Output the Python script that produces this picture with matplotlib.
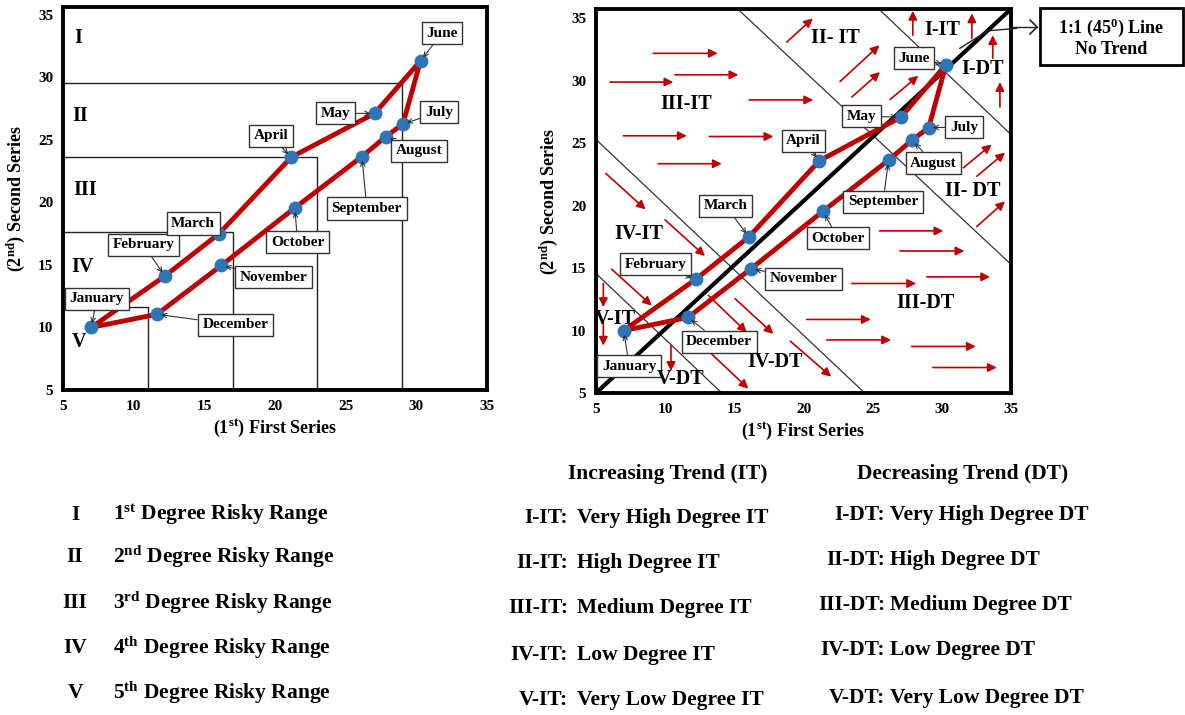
import matplotlib.pyplot as plt
from matplotlib.patches import Rectangle

plt.rcParams['font.family'] = ['Liberation Serif', 'DejaVu Serif']
plt.rcParams['font.weight'] = 'bold'
plt.rcParams['axes.labelweight'] = 'bold'
plt.rcParams['mathtext.fontset'] = 'custom'
plt.rcParams['mathtext.rm'] = 'Liberation Serif:bold'
plt.rcParams['mathtext.bf'] = 'Liberation Serif:bold'
plt.rcParams['mathtext.it'] = 'Liberation Serif:bold'

W, H = 1185, 715
RED = '#C00000'
BLUE = '#2E75B6'

# Data
months = ['January', 'February', 'March', 'April', 'May', 'June',
          'July', 'August', 'September', 'October', 'November', 'December']
first_series = [7.0, 12.2, 16.05, 21.15, 27.05, 30.3, 29.05, 27.85, 26.15, 21.4, 16.2, 11.65]
second_series = [10.0, 14.1, 17.5, 23.6, 27.1, 31.3, 26.25, 25.25, 23.65, 19.55, 14.95, 11.05]

# callout label centres
left_label_pos = [(7.4, 12.3), (10.7, 16.6), (14.2, 18.3), (19.7, 25.3), (24.3, 27.1), (31.8, 33.5),
                  (31.6, 27.2), (30.2, 24.1), (26.5, 19.5), (21.6, 16.8), (19.9, 14.0), (17.2, 10.2)]
right_label_pos = [(7.4, 7.15), (9.3, 15.3), (14.35, 20.0), (20.0, 25.2), (24.2, 27.15), (28.0, 31.8),
                   (31.6, 26.3), (29.4, 23.4), (25.75, 20.3), (22.5, 17.4), (20.0, 14.15), (13.9, 9.1)]

# risky ranges (left chart)
range_x = [11, 17, 23, 29]
range_y = [11.6, 17.65, 23.65, 29.55]
range_names = ['I', 'II', 'III', 'IV', 'V']
range_name_pos = [(6.1, 33.1), (6.25, 26.9), (6.6, 21.0), (6.4, 14.8), (6.1, 8.8)]
range_sup = ['st', 'nd', 'rd', 'th', 'th']

# trend zones (right chart)
zone_names = ['I-IT', 'II- IT', 'III-IT', 'IV-IT', 'V-IT', 'I-DT', 'II- DT', 'III-DT', 'IV-DT', 'V-DT']
zone_pos = [(30.0, 34.05), (22.3, 33.45), (11.55, 28.15), (8.1, 17.7), (6.4, 10.9),
            (32.95, 30.95), (32.2, 21.15), (28.85, 12.2), (17.95, 7.45), (11.1, 6.15)]
zone_boundaries = [((5, 14.57), (14.09, 5)), ((5, 25.3), (24.33, 5.1)),
                   ((15.29, 35.7), (35, 15.3)), ((25.49, 35.7), (35, 25.7))]
trend_arrows = [
    (9.14, 32.2, 13.8, 32.2), (10.71, 30.48, 15.29, 30.48), (6.01, 29.9, 10.59, 29.9),
    (16.08, 28.47, 20.7, 28.47), (6.98, 25.6, 11.56, 25.6), (13.19, 25.54, 17.82, 25.54),
    (9.5, 23.36, 14.09, 23.36),
    (18.79, 33.1, 20.67, 35.0), (22.64, 29.94, 25.49, 32.85), (23.49, 28.7, 25.53, 30.7),
    (26.26, 28.5, 28.3, 30.4),
    (27.9, 33.65, 27.9, 35.6), (32.17, 33.4, 32.17, 35.4), (33.68, 31.8, 33.68, 33.65),
    (34.2, 27.9, 34.2, 29.9),
    (31.56, 23.04, 33.6, 24.9), (32.53, 22.36, 34.57, 24.25), (32.53, 18.33, 34.57, 20.35),
    (5.71, 22.58, 8.59, 19.7), (9.99, 18.87, 12.88, 15.97), (6.13, 14.92, 9.03, 12.0),
    (5.53, 13.77, 5.53, 11.88), (5.53, 10.8, 5.53, 8.79), (10.42, 8.79, 10.42, 6.77),
    (13.12, 12.82, 15.9, 9.86), (15.05, 12.56, 17.82, 9.73), (13.24, 8.25, 16.01, 5.35),
    (19.05, 9.15, 22.0, 6.31),
    (25.49, 17.98, 30.11, 17.98), (26.98, 16.37, 31.63, 16.37), (28.91, 14.3, 33.49, 14.3),
    (23.49, 13.77, 28.14, 13.77), (20.23, 10.89, 24.86, 10.89), (21.68, 9.25, 26.33, 9.25),
    (27.82, 8.73, 32.45, 8.73), (29.35, 7.04, 33.97, 7.04),
]

it_names = ['I-IT:', 'II-IT:', 'III-IT:', 'IV-IT:', 'V-IT:']
it_desc = ['Very High Degree IT', 'High Degree IT', 'Medium Degree IT', 'Low Degree IT', 'Very Low Degree IT']
dt_names = ['I-DT:', 'II-DT:', 'III-DT:', 'IV-DT:', 'V-DT:']
dt_desc = ['Very High Degree DT', 'High Degree DT', 'Medium Degree DT', 'Low Degree DT', 'Very Low Degree DT']


def fx(x):
    return x / W


def fy(y):
    return 1 - y / H


fig = plt.figure(figsize=(W / 100, H / 100), dpi=100, facecolor='white')
ax1 = fig.add_axes([fx(63), fy(390), 424 / W, 383 / H])
ax2 = fig.add_axes([fx(596), fy(393), 415 / W, 384 / H])


def style_axes(ax, ytop):
    ax.set_xlim(5, 35)
    ax.set_ylim(5, ytop)
    ax.set_xticks(range(5, 36, 5))
    ax.set_yticks(range(5, 36, 5))
    ax.tick_params(length=0, labelsize=11, pad=7)
    for lab in ax.get_xticklabels() + ax.get_yticklabels():
        lab.set_fontweight('bold')
    for s in ax.spines.values():
        s.set_linewidth(2.8)
        s.set_color('black')
    ax.set_xlabel(r'(1$^{\mathrm{st}}$) First Series', fontsize=13, labelpad=4, fontweight='bold')
    ax.set_ylabel(r'(2$^{\mathrm{nd}}$) Second Series', fontsize=13, labelpad=8, fontweight='bold')


def draw_loop(ax, label_pos):
    xs = first_series + [first_series[0]]
    ys = second_series + [second_series[0]]
    ax.plot(xs, ys, color=RED, lw=3.5, zorder=4, solid_capstyle='round')
    ax.plot(first_series, second_series, 'o', color=BLUE, ms=9, zorder=5)
    for m, x, y, (lx, ly) in zip(months, first_series, second_series, label_pos):
        ax.annotate(m, xy=(x, y), xytext=(lx, ly), ha='center', va='center', fontsize=11,
                    zorder=6,
                    bbox=dict(boxstyle='square,pad=0.3', fc='white', ec='#333333', lw=1),
                    arrowprops=dict(arrowstyle='->', color='#333333', lw=0.8,
                                    mutation_scale=8, shrinkA=0, shrinkB=3))


# left chart
style_axes(ax1, 35.6)
for cx, cy in zip(range_x, range_y):
    ax1.plot([5, cx, cx], [cy, cy, 5], color='#222222', lw=1, zorder=2)
for name, (x, y) in zip(range_names, range_name_pos):
    ax1.text(x, y, name, fontsize=14.5, ha='center', va='center')
draw_loop(ax1, left_label_pos)

# right chart
style_axes(ax2, 35.75)
for (x0, y0), (x1, y1) in zone_boundaries:
    ax2.plot([x0, x1], [y0, y1], color='#333333', lw=0.9, zorder=2)
ax2.plot([5, 35], [5, 35.75], color='black', lw=3, zorder=3)
for x0, y0, x1, y1 in trend_arrows:
    ax2.annotate('', xy=(x1, y1), xytext=(x0, y0),
                 arrowprops=dict(arrowstyle='-|>', color=RED, lw=1.2, mutation_scale=13,
                                 shrinkA=0, shrinkB=0))
for name, (x, y) in zip(zone_names, zone_pos):
    ax2.text(x, y, name, fontsize=14.5, ha='center', va='center', zorder=7)
draw_loop(ax2, right_label_pos)

# callout for the 1:1 line
ax2.plot([31.3, 33.3, 35.4], [32.6, 34.0, 34.2], color='#222222', lw=1, clip_on=False, zorder=6)
fig.add_artist(plt.Line2D([fx(1012), fx(1037)], [fy(27), fy(27)], color='#222222', lw=1))
fig.add_artist(plt.Line2D([fx(1030), fx(1037), fx(1030)], [fy(20), fy(27), fy(34)],
                          color='#222222', lw=1.2))
fig.add_artist(Rectangle((fx(1040), fy(65)), 143 / W, 57 / H, transform=fig.transFigure,
                         fill=False, lw=2, ec='black'))
fig.text(fx(1111), fy(37), '1:1 (45$^{\\mathrm{0}}$) Line\nNo Trend', ha='center', va='center',
         fontsize=13, linespacing=1.15)

# legend texts
legend_fs = 15.5
legend_rows_left = [515, 557, 603, 648, 693]
for i, (name, sup, y) in enumerate(zip(range_names, range_sup, legend_rows_left)):
    fig.text(fx(75), fy(y), name, ha='center', va='center', fontsize=legend_fs)
    fig.text(fx(113), fy(y), '%d$^{\\mathrm{%s}}$ Degree Risky Range' % (i + 1, sup),
             ha='left', va='center', fontsize=legend_fs)

fig.text(fx(668), fy(474), 'Increasing Trend (IT)', ha='center', va='center', fontsize=legend_fs)
fig.text(fx(963), fy(474), 'Decreasing Trend (DT)', ha='center', va='center', fontsize=legend_fs)

it_rows = [518, 563, 608, 655, 700]
for n, d, y in zip(it_names, it_desc, it_rows):
    fig.text(fx(568), fy(y), n, ha='right', va='center', fontsize=legend_fs)
    fig.text(fx(577), fy(y), d, ha='left', va='center', fontsize=legend_fs)

dt_rows = [515, 560, 605, 650, 698]
for n, d, y in zip(dt_names, dt_desc, dt_rows):
    fig.text(fx(885), fy(y), n, ha='right', va='center', fontsize=legend_fs)
    fig.text(fx(890), fy(y), d, ha='left', va='center', fontsize=legend_fs)

fig.savefig('out.png', dpi=100, facecolor='white')
